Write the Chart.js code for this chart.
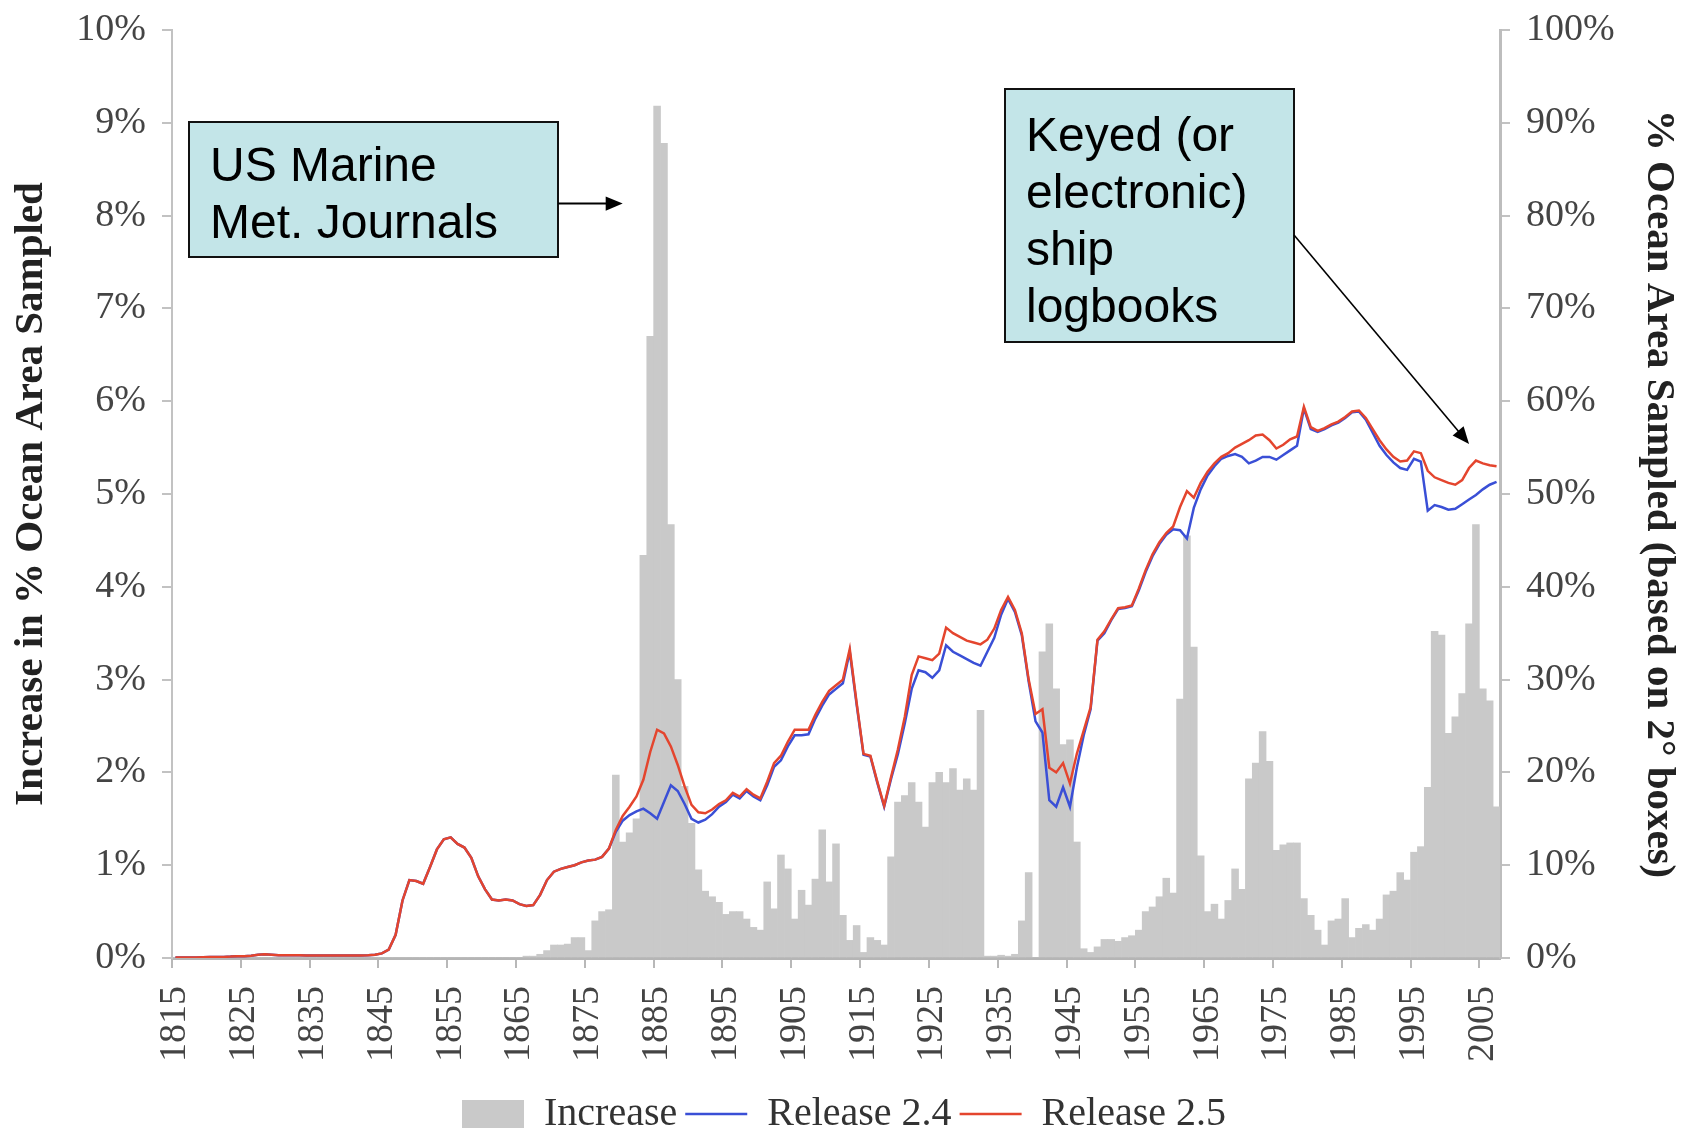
<!DOCTYPE html>
<html>
<head>
<meta charset="utf-8">
<title>Increase in % Ocean Area Sampled</title>
<script src="https://cdn.jsdelivr.net/npm/chart.js@4.4.1/dist/chart.umd.min.js"></script>
<style>
  html, body { margin: 0; padding: 0; background: #ffffff; }
  #wrap { width: 1688px; height: 1132px; }
</style>
</head>
<body>
<div id="wrap"><canvas id="chart" width="1688" height="1132"></canvas></div>
<script>
// Categories: one per year
const years = [];
for (let y = 1815; y <= 2007; y++) years.push(String(y));

// Yearly increase in % ocean area sampled (left axis, %)
const increase = [
  0, 0, 0, 0, 0, 0, 0, 0, 0, 0,                         // 1815-1824
  0, 0, 0, 0, 0, 0, 0, 0, 0, 0,                         // 1825-1834
  0, 0, 0, 0, 0, 0, 0, 0, 0, 0,                         // 1835-1844
  0, 0, 0, 0, 0, 0, 0, 0, 0, 0,                         // 1845-1854
  0, 0, 0, 0, 0, 0, 0, 0, 0, 0,                         // 1855-1864
  0, 0.02, 0.02, 0.04, 0.08, 0.14, 0.14, 0.15, 0.22, 0.22,   // 1865-1874
  0.08, 0.4, 0.5, 0.52, 1.97, 1.25, 1.35, 1.5, 4.34, 6.7,    // 1875-1884
  9.18, 8.78, 4.67, 3.0, 1.85, 1.45, 0.95, 0.72, 0.66, 0.6,  // 1885-1894
  0.47, 0.5, 0.5, 0.42, 0.33, 0.3, 0.82, 0.53, 1.11, 0.96,   // 1895-1904
  0.42, 0.73, 0.57, 0.85, 1.38, 0.82, 1.23, 0.46, 0.19, 0.35, // 1905-1914
  0.06, 0.22, 0.19, 0.14, 1.09, 1.68, 1.75, 1.89, 1.68, 1.41, // 1915-1924
  1.89, 2.0, 1.89, 2.04, 1.81, 1.93, 1.81, 2.67, 0.02, 0.02,  // 1925-1934
  0.03, 0.02, 0.04, 0.4, 0.92, 0, 3.3, 3.6, 2.9, 2.3,         // 1935-1944
  2.35, 1.25, 0.1, 0.06, 0.12, 0.2, 0.2, 0.18, 0.22, 0.24,    // 1945-1954
  0.3, 0.5, 0.55, 0.66, 0.86, 0.7, 2.79, 4.55, 3.35, 1.1,     // 1955-1964
  0.5, 0.58, 0.42, 0.62, 0.96, 0.74, 1.93, 2.1, 2.44, 2.12,   // 1965-1974
  1.16, 1.22, 1.24, 1.24, 0.64, 0.46, 0.3, 0.14, 0.4, 0.42,   // 1975-1984
  0.64, 0.22, 0.32, 0.36, 0.3, 0.42, 0.68, 0.72, 0.92, 0.84,  // 1985-1994
  1.14, 1.2, 1.84, 3.52, 3.48, 2.42, 2.6, 2.85, 3.6, 4.67,    // 1995-2004
  2.9, 2.77, 1.63                                             // 2005-2007
];

// % ocean area sampled, Release 2.4 (right axis, %)
const release24 = [
  0.05, 0.05, 0.05, 0.05, 0.08, 0.1, 0.1, 0.12, 0.15, 0.2,    // 1815-1824
  0.2, 0.25, 0.35, 0.4, 0.35, 0.3, 0.3, 0.3, 0.3, 0.28,       // 1825-1834
  0.28, 0.28, 0.28, 0.28, 0.28, 0.28, 0.28, 0.28, 0.3, 0.35,  // 1835-1844
  0.5, 0.9, 2.5, 6.2, 8.4, 8.3, 8.0, 9.8, 11.7, 12.8,         // 1845-1854
  13.0, 12.3, 11.9, 10.8, 8.8, 7.4, 6.3, 6.2, 6.3, 6.2,       // 1855-1864
  5.8, 5.6, 5.7, 6.8, 8.4, 9.3, 9.6, 9.8, 10.0, 10.3,         // 1865-1874
  10.5, 10.6, 10.9, 11.8, 13.6, 14.8, 15.4, 15.8, 16.1, 15.6, // 1875-1884
  15.0, 16.8, 18.6, 18.0, 16.6, 15.0, 14.6, 14.9, 15.5, 16.3, // 1885-1894
  16.8, 17.6, 17.2, 18.0, 17.4, 17.0, 18.6, 20.6, 21.3, 22.8, // 1895-1904
  24.0, 24.0, 24.1, 25.8, 27.2, 28.4, 29.0, 29.6, 33.0, 27.3, // 1905-1914
  21.9, 21.7, 18.9, 16.3, 19.3, 22.0, 25.3, 29.0, 31.0, 30.8, // 1915-1924
  30.2, 31.0, 33.7, 33.0, 32.6, 32.2, 31.8, 31.5, 33.0, 34.5, // 1925-1934
  37.0, 38.7, 37.3, 34.8, 29.8, 25.5, 24.3, 17.0, 16.3, 18.4, // 1935-1944
  16.3, 20.5, 24.0, 26.8, 34.2, 35.0, 36.4, 37.6, 37.7, 37.9, // 1945-1954
  39.6, 41.6, 43.3, 44.6, 45.6, 46.2, 46.1, 45.2, 48.5, 50.5, // 1955-1964
  52.0, 53.0, 53.8, 54.1, 54.3, 54.0, 53.3, 53.6, 54.0, 54.0, // 1965-1974
  53.7, 54.2, 54.7, 55.2, 59.2, 57.0, 56.7, 57.0, 57.4, 57.7, // 1975-1984
  58.2, 58.8, 58.9, 58.0, 56.6, 55.2, 54.2, 53.4, 52.8, 52.6, // 1985-1994
  53.8, 53.5, 48.2, 48.8, 48.6, 48.3, 48.4, 48.9, 49.4, 49.9, // 1995-2004
  50.5, 51.0, 51.3                                            // 2005-2007
];

// % ocean area sampled, Release 2.5 (right axis, %)
const release25 = [
  0.05, 0.05, 0.05, 0.05, 0.08, 0.1, 0.1, 0.12, 0.15, 0.2,    // 1815-1824
  0.2, 0.25, 0.35, 0.4, 0.35, 0.3, 0.3, 0.3, 0.3, 0.28,       // 1825-1834
  0.28, 0.28, 0.28, 0.28, 0.28, 0.28, 0.28, 0.28, 0.3, 0.35,  // 1835-1844
  0.5, 0.9, 2.5, 6.2, 8.4, 8.3, 8.0, 9.8, 11.7, 12.8,         // 1845-1854
  13.0, 12.3, 11.9, 10.8, 8.8, 7.4, 6.3, 6.2, 6.3, 6.2,       // 1855-1864
  5.8, 5.6, 5.7, 6.8, 8.4, 9.3, 9.6, 9.8, 10.0, 10.3,         // 1865-1874
  10.5, 10.6, 10.9, 11.8, 13.8, 15.3, 16.3, 17.4, 19.2, 22.2, // 1875-1884
  24.6, 24.2, 22.8, 20.8, 18.5, 16.5, 15.7, 15.6, 16.0, 16.6, // 1885-1894
  17.0, 17.8, 17.4, 18.2, 17.6, 17.2, 19.0, 21.0, 21.8, 23.3, // 1895-1904
  24.6, 24.6, 24.6, 26.2, 27.6, 28.8, 29.4, 30.0, 33.3, 27.5, // 1905-1914
  22.0, 21.8, 19.0, 16.4, 19.5, 22.5, 26.0, 30.5, 32.5, 32.3, // 1915-1924
  32.1, 32.8, 35.6, 35.0, 34.6, 34.2, 34.0, 33.8, 34.3, 35.5, // 1925-1934
  37.5, 38.9, 37.5, 35.0, 30.0, 26.3, 26.8, 20.5, 20.0, 21.0, // 1935-1944
  18.8, 22.0, 24.5, 27.0, 34.3, 35.2, 36.5, 37.7, 37.8, 38.0, // 1945-1954
  39.8, 41.8, 43.5, 44.8, 45.8, 46.5, 48.6, 50.3, 49.6, 51.2, // 1955-1964
  52.4, 53.3, 54.0, 54.4, 55.0, 55.4, 55.8, 56.3, 56.4, 55.8, // 1965-1974
  54.9, 55.3, 55.9, 56.2, 59.4, 57.2, 56.8, 57.1, 57.5, 57.8, // 1975-1984
  58.3, 58.9, 59.0, 58.2, 57.0, 55.8, 54.8, 54.0, 53.5, 53.6, // 1985-1994
  54.6, 54.4, 52.5, 51.8, 51.5, 51.2, 51.0, 51.5, 52.8, 53.6, // 1995-2004
  53.3, 53.1, 53.0                                            // 2005-2007
];

// Years that carry an axis label
const labelEvery = 10;
const labelStart = 1815;

const barGrey = '#c9c9c9';
const blue24 = '#3a4fd6';
const red25 = '#e4452e';
const serif = '"Liberation Serif", "Times New Roman", Times, serif';
const sans = '"Liberation Sans", Arial, Helvetica, sans-serif';

// Callout boxes with arrows pointing into the plot
function drawArrow(ctx, x1, y1, x2, y2, width, head) {
  const ang = Math.atan2(y2 - y1, x2 - x1);
  ctx.beginPath();
  ctx.lineWidth = width;
  ctx.strokeStyle = '#000';
  ctx.moveTo(x1, y1);
  ctx.lineTo(x2 - Math.cos(ang) * head * 0.8, y2 - Math.sin(ang) * head * 0.8);
  ctx.stroke();
  ctx.beginPath();
  ctx.fillStyle = '#000';
  ctx.moveTo(x2, y2);
  ctx.lineTo(x2 - head * Math.cos(ang) + head * 0.42 * Math.sin(ang),
             y2 - head * Math.sin(ang) - head * 0.42 * Math.cos(ang));
  ctx.lineTo(x2 - head * Math.cos(ang) - head * 0.42 * Math.sin(ang),
             y2 - head * Math.sin(ang) + head * 0.42 * Math.cos(ang));
  ctx.closePath();
  ctx.fill();
}

function drawCallout(ctx, box, lines) {
  ctx.fillStyle = '#c3e5e8';
  ctx.fillRect(box.x, box.y, box.w, box.h);
  ctx.lineWidth = 2;
  ctx.strokeStyle = '#111';
  ctx.strokeRect(box.x, box.y, box.w, box.h);
  ctx.fillStyle = '#000';
  ctx.font = '48px ' + sans;
  ctx.textAlign = 'left';
  ctx.textBaseline = 'alphabetic';
  lines.forEach((t, i) => ctx.fillText(t, box.tx, box.ty + i * box.lh));
}

const callouts = {
  id: 'callouts',
  afterDraw(chart) {
    const ctx = chart.ctx;
    const xs = chart.scales.x, yL = chart.scales.yL, yR = chart.scales.yR;
    ctx.save();
    const usBox = { x: 189, y: 122, w: 369, h: 135, tx: 210, ty: 181, lh: 57 };
    drawCallout(ctx, usBox, ['US Marine', 'Met. Journals']);
    const keyBox = { x: 1005, y: 89, w: 289, h: 253, tx: 1026, ty: 151, lh: 57 };
    drawCallout(ctx, keyBox, ['Keyed (or', 'electronic)', 'ship', 'logbooks']);

    const ay = yL.getPixelForValue(8.13);
    drawArrow(ctx, usBox.x + usBox.w, ay, xs.getPixelForValue(years.indexOf('1880')), ay, 2, 17);
    drawArrow(ctx, keyBox.x + keyBox.w, 235,
              xs.getPixelForValue(years.indexOf('2003')), yR.getPixelForValue(55.4), 1.6, 17);
    ctx.restore();
  }
};

// Vertical axes: fixed width, and labels allowed to overhang the plot edges
function fixVertical(width) {
  return function (scale) {
    scale.width = width;
    scale.paddingTop = 0;
    scale.paddingBottom = 0;
  };
}

const chart = new Chart(document.getElementById('chart'), {
  type: 'bar',
  data: {
    labels: years,
    datasets: [
      {
        type: 'bar',
        label: 'Increase',
        data: increase,
        yAxisID: 'yL',
        backgroundColor: barGrey,
        borderWidth: 0,
        categoryPercentage: 1.0,
        barPercentage: 1.0,
        order: 3
      },
      {
        type: 'line',
        label: 'Release 2.4',
        data: release24,
        yAxisID: 'yR',
        borderColor: blue24,
        borderWidth: 2.5,
        pointRadius: 0,
        tension: 0,
        fill: false,
        order: 2
      },
      {
        type: 'line',
        label: 'Release 2.5',
        data: release25,
        yAxisID: 'yR',
        borderColor: red25,
        borderWidth: 2.5,
        pointRadius: 0,
        tension: 0,
        fill: false,
        order: 1
      }
    ]
  },
  options: {
    responsive: false,
    animation: false,
    devicePixelRatio: 1,
    layout: { padding: { top: 30, left: 0, right: 0, bottom: -12 } },
    plugins: {
      tooltip: { enabled: false },
      legend: {
        position: 'bottom',
        labels: {
          font: { family: serif, size: 40 },
          color: '#333',
          usePointStyle: true,
          pointStyleWidth: 62,
          boxHeight: 28,
          padding: 8,
          generateLabels(chart) {
            return chart.data.datasets.map((ds, i) => ({
              text: ds.label,
              datasetIndex: i,
              fillStyle: ds.type === 'bar' ? barGrey : ds.borderColor,
              strokeStyle: ds.type === 'bar' ? barGrey : ds.borderColor,
              lineWidth: ds.type === 'bar' ? 0 : 2.4,
              pointStyle: ds.type === 'bar' ? 'rect' : 'line',
              fontColor: '#333',
              hidden: false
            }));
          }
        }
      }
    },
    scales: {
      x: {
        type: 'category',
        offset: true,
        afterFit(scale) { scale.height = 128; },
        border: { display: true, color: '#b5b5b5', width: 3 },
        grid: {
          drawOnChartArea: false,
          drawTicks: true,
          tickLength: 10,
          lineWidth: 2,
          color: (c) => (c.index % labelEvery === 0 ? '#b8b8b8' : 'rgba(0,0,0,0)')
        },
        ticks: {
          autoSkip: false,
          maxRotation: 90,
          minRotation: 90,
          padding: 18,
          color: '#444',
          font: { family: serif, size: 38 },
          callback(value, index) {
            const yr = Number(years[index]);
            return (yr - labelStart) % labelEvery === 0 ? years[index] : '';
          }
        }
      },
      yL: {
        position: 'left',
        min: 0,
        max: 10,
        afterFit: fixVertical(172),
        border: { display: true, color: '#c2c2c2', width: 2 },
        grid: { drawOnChartArea: false, drawTicks: true, tickLength: 10, lineWidth: 2, color: '#c2c2c2' },
        ticks: {
          stepSize: 1,
          padding: 16,
          color: '#444',
          font: { family: serif, size: 38 },
          callback: (v) => v + '%'
        },
        title: {
          display: true,
          text: 'Increase in % Ocean Area Sampled',
          color: '#222',
          font: { family: serif, size: 41, weight: 'bold' },
          padding: { top: 7, bottom: 0 }
        }
      },
      yR: {
        position: 'right',
        min: 0,
        max: 100,
        afterFit: fixVertical(188),
        border: { display: true, color: '#bdbdbd', width: 3 },
        grid: { drawOnChartArea: false, drawTicks: true, tickLength: 10, lineWidth: 2, color: '#c2c2c2' },
        ticks: {
          stepSize: 10,
          padding: 16,
          color: '#444',
          font: { family: serif, size: 38 },
          callback: (v) => v + '%'
        },
        title: {
          display: true,
          text: '% Ocean Area Sampled (based on 2° boxes)',
          color: '#222',
          font: { family: serif, size: 41, weight: 'bold' },
          padding: { top: 5, bottom: 0 }
        }
      }
    }
  },
  plugins: [callouts]
});
</script>
</body>
</html>
